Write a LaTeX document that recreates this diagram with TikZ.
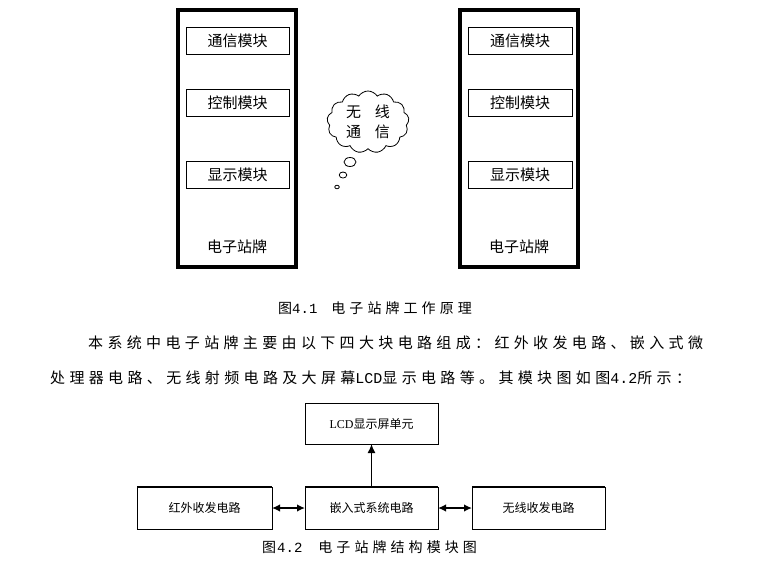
\documentclass[tikz,border=0pt]{standalone}
\usepackage{fontspec}
\setmainfont{Liberation Serif}
\newfontfamily\cjk{Noto Sans CJK SC}
\newfontfamily\cjksp[LetterSpace=29]{Noto Sans CJK SC}
\newfontfamily\monof{Liberation Mono}
\usetikzlibrary{shapes.symbols,arrows.meta}
\tikzset{
  board/.style={draw, line width=4pt, minimum width=118pt, minimum height=257pt, inner sep=0pt, outer sep=0pt, anchor=north west},
  module/.style={draw, line width=0.9pt, minimum height=27pt, inner sep=0pt, outer sep=0pt, anchor=north west, font=\cjk\fontsize{15}{18}\selectfont},
  boardlbl/.style={inner sep=0pt, font=\cjk\fontsize{15}{18}\selectfont},
  para/.style={inner sep=0pt, anchor=west, font=\cjksp\fontsize{15}{18}\selectfont},
  capt/.style={inner sep=0pt, anchor=west, font=\cjksp\fontsize{14}{17}\selectfont},
  blk/.style={draw, line width=0.8pt, minimum height=42pt, inner sep=0pt, outer sep=0pt, anchor=north west, font=\cjk\fontsize{12}{14}\selectfont},
  topedge/.style={line width=2.2pt},
  conn/.style={line width=1.5pt, -{Latex[length=9pt,width=8pt]}},
  dconn/.style={line width=1.5pt, {Latex[length=8pt,width=7.5pt]}-{Latex[length=8pt,width=7.5pt]}},
  bubble/.style={draw, line width=0.8pt}
}
\begin{document}
\begin{tikzpicture}[x=1pt,y=-1pt]
\useasboundingbox[fill=white] (0,0) rectangle (766,584);

% ---- Figure 4.1 ----
\node[board] (bl) at (178,10) {};
\node[module, minimum width=103pt] (l1) at (186,27) {通信模块};
\node[module, minimum width=103pt] (l2) at (186,89) {控制模块};
\node[module, minimum width=103pt] (l3) at (186,161) {显示模块};
\node[boardlbl] (llbl) at (237,247) {电子站牌};

\node[board] (br) at (460,10) {};
\node[module, minimum width=104pt] (r1) at (468,27) {通信模块};
\node[module, minimum width=104pt] (r2) at (468,89) {控制模块};
\node[module, minimum width=104pt] (r3) at (468,161) {显示模块};
\node[boardlbl] (rlbl) at (519,247) {电子站牌};

\node[cloud, draw, line width=0.8pt, cloud puffs=13, cloud puff arc=115, aspect=1.35,
      minimum width=82pt, minimum height=62pt, inner sep=0pt, align=center,
      font=\cjk\fontsize{15}{20}\selectfont] (cl) at (368,122) {无\hspace{14pt}线\\通\hspace{14pt}信};
\draw[bubble] (350,162) ellipse[x radius=6pt, y radius=4.5pt];
\draw[bubble] (343,175) ellipse[x radius=3.8pt, y radius=3pt];
\draw[bubble] (337,187) ellipse[x radius=2.3pt, y radius=1.8pt];

\node[capt] (cap1) at (278,308) {图{\monof 4.1}\hspace{14pt}电子站牌工作原理};

% ---- paragraph ----
\node[para] (p1) at (88,343) {本系统中电子站牌主要由以下四大块电路组成：红外收发电路、嵌入式微};
\node[para] (p2) at (50,378) {处理器电路、无线射频电路及大屏幕{\monof LCD}显示电路等。其模块图如图{\monof 4.2}所示：};

% ---- Figure 4.2 ----
\node[blk, minimum width=133pt, minimum height=41pt] (lcd) at (305,403) {{\rmfamily LCD}显示屏单元};
\node[blk, minimum width=135pt] (ir) at (137,487) {红外收发电路};
\node[blk, minimum width=133pt] (emb) at (305,487) {嵌入式系统电路};
\node[blk, minimum width=133pt] (wl) at (472,487) {无线收发电路};
\draw[topedge] (ir.north west) -- (ir.north east);
\draw[topedge] (emb.north west) -- (emb.north east);
\draw[topedge] (wl.north west) -- (wl.north east);

\draw[conn] (emb.north) -- (lcd.south);
\draw[dconn] (ir.east) -- (emb.west);
\draw[dconn] (emb.east) -- (wl.west);

\node[capt] (cap2) at (262,547) {图\hspace{1pt}{\monof 4.2}\hspace{16pt}电子站牌结构模块图};
\end{tikzpicture}
\end{document}
